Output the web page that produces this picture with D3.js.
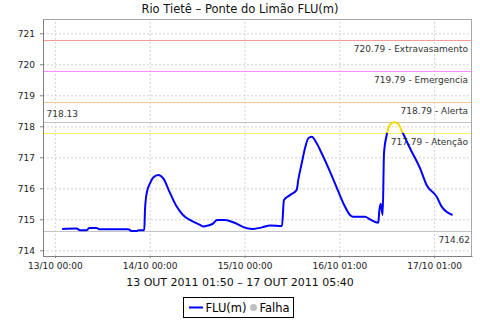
<!DOCTYPE html>
<html>
<head>
<meta charset="utf-8">
<script src="https://cdn.jsdelivr.net/npm/d3@7"></script>
<style>
body { margin: 0; background: #fff; }
text { font-family: "DejaVu Sans", sans-serif; }
</style>
</head>
<body>
<div id="chart"></div>
<script>
// hours since 13/10 00:00 (standard time, before the DST change)
var hours = [1.83, 5.52, 6.35, 8.05, 8.71, 10.58, 11.16, 18.58, 19.44, 20.71, 21.16, 22.63,
	22.81, 23.24, 24.08, 24.91, 26.18, 27.44, 29.14, 30.84, 32.43, 34.2, 36.73, 37.49,
	38.76, 40.03, 41.04, 43.06, 45.59, 48.63, 50.15, 52.43, 54.46, 57.49, 57.99, 59.52,
	61.22, 61.62, 62.48, 63.32, 64.15, 65.01, 66.28, 67.54, 69.65, 71.75, 73.44, 74.71,
	75.54, 78.51, 79.77, 81.87, 82.13, 82.48, 82.99, 83.32, 84.0, 84.84, 85.92, 86.86,
	88.05, 89.9, 92.43, 94.13, 96.66, 97.92, 100.67];
var levels = [714.69, 714.70, 714.65, 714.65, 714.72, 714.72, 714.68, 714.68, 714.62, 714.62, 714.65, 714.65,
	715.30, 715.84, 716.16, 716.35, 716.43, 716.32, 715.85, 715.41, 715.14, 714.98, 714.82, 714.77,
	714.80, 714.86, 714.98, 714.98, 714.88, 714.71, 714.69, 714.74, 714.80, 714.78, 715.62, 715.78,
	715.95, 716.27, 716.80, 717.29, 717.61, 717.66, 717.45, 717.13, 716.54, 715.90, 715.41, 715.14,
	715.08, 715.08, 715.00, 714.89, 715.27, 715.50, 715.14, 717.13, 717.72, 718.05, 718.13, 718.08,
	717.79, 717.29, 716.65, 716.10, 715.73, 715.41, 715.14];

var xTickHours = [0, 24, 48, 72, 96];
var xTickLabels = ["13/10 00:00", "14/10 00:00", "15/10 00:00", "16/10 01:00", "17/10 01:00"];
var yTicks = [714, 715, 716, 717, 718, 719, 720, 721];

var limitNames = ["Extravasamento", "Emergencia", "Alerta", "Atenção"];
var limitValues = [720.79, 719.79, 718.79, 717.79];
var limitColors = ["#f09a9a", "#ff8cff", "#f6c896", "#ffee66"];
var maxLevel = 718.13;
var minLevel = 714.62;

var svgWidth = 480;
var svgHeight = 320;
var plot = { left: 43, right: 472, top: 19, bottom: 256 };

var base = Date.UTC(2011, 9, 13, 3, 0);  // 13/10 00:00 local (UTC-3)
function toDate(h) { return new Date(base + h * 3600e3); }

var data = hours.map(function(h, i) { return { t: toDate(h), v: levels[i] }; });

var svg = d3.select("#chart")
	.append("svg")
	.attr("width", svgWidth)
	.attr("height", svgHeight);

var x = d3.scaleUtc()
	.domain([toDate(-3.01), toDate(105.6)])
	.range([plot.left, plot.right]);

var y = d3.scaleLinear()
	.domain([713.816, 721.461])
	.range([plot.bottom, plot.top]);

var pw = plot.right - plot.left;
var ph = plot.bottom - plot.top;

// title
svg.append("text")
	.attr("x", 240)
	.attr("y", 12.5)
	.attr("text-anchor", "middle")
	.style("font-size", "11.5px")
	.attr("fill", "#111")
	.text("Rio Tietê – Ponte do Limão FLU(m)");

// gridlines
svg.append("g")
	.attr("transform", `translate(0, ${plot.bottom})`)
	.call(d3.axisBottom(x).tickValues(xTickHours.map(toDate)).tickSize(-ph).tickFormat(""));
svg.append("g")
	.attr("transform", `translate(${plot.left}, 0)`)
	.call(d3.axisLeft(y).tickValues(yTicks).tickSize(-pw).tickFormat(""));
svg.selectAll(".domain").remove();
svg.selectAll("g.tick line")
	.attr("stroke", "#d4d4d4")
	.attr("stroke-dasharray", "2,2");

// frame
svg.append("rect")
	.attr("x", plot.left + 0.5)
	.attr("y", plot.top + 0.5)
	.attr("width", pw - 1)
	.attr("height", ph)
	.attr("fill", "none")
	.attr("stroke", "#a8a8a8");

// limit lines
limitValues.forEach(function(v, i) {
	svg.append("line")
		.attr("x1", plot.left + 1).attr("x2", plot.right - 1)
		.attr("y1", Math.round(y(v)) + 0.5).attr("y2", Math.round(y(v)) + 0.5)
		.attr("stroke", limitColors[i]);
});
[maxLevel, minLevel].forEach(function(v) {
	svg.append("line")
		.attr("x1", plot.left + 1).attr("x2", plot.right - 1)
		.attr("y1", Math.round(y(v)) + 0.5).attr("y2", Math.round(y(v)) + 0.5)
		.attr("stroke", "#c4c4c4");
});

// data line: blue below "Atenção", yellow above it
var cut = y(limitValues[3]);
var defs = svg.append("defs");
defs.append("clipPath").attr("id", "below")
	.append("rect").attr("x", plot.left).attr("y", cut).attr("width", pw).attr("height", plot.bottom - cut);
defs.append("clipPath").attr("id", "above")
	.append("rect").attr("x", plot.left).attr("y", plot.top).attr("width", pw).attr("height", cut - plot.top);

var line = d3.line()
	.curve(d3.curveMonotoneX)
	.x(d => x(d.t))
	.y(d => y(d.v));

svg.append("path")
	.datum(data)
	.attr("clip-path", "url(#below)")
	.attr("d", line)
	.attr("fill", "none")
	.attr("stroke", "#0000ff")
	.attr("stroke-width", 2)
	.attr("stroke-linejoin", "round");

svg.append("path")
	.datum(data)
	.attr("clip-path", "url(#above)")
	.attr("d", line)
	.attr("fill", "none")
	.attr("stroke", "#f8d800")
	.attr("stroke-width", 2)
	.attr("stroke-linejoin", "round");

// limit labels
limitValues.forEach(function(v, i) {
	svg.append("text")
		.attr("x", 468)
		.attr("y", y(v) + 12)
		.attr("text-anchor", "end")
		.style("font-size", "9px")
		.attr("fill", "#333")
		.text(v.toFixed(2) + " - " + limitNames[i]);
});
svg.append("text")
	.attr("x", 46.5)
	.attr("y", y(maxLevel) - 5)
	.style("font-size", "9px")
	.attr("fill", "#333")
	.text(maxLevel.toFixed(2));
svg.append("text")
	.attr("x", 470)
	.attr("y", y(minLevel) + 11.5)
	.attr("text-anchor", "end")
	.style("font-size", "9px")
	.attr("fill", "#333")
	.text(minLevel.toFixed(2));

// axes
var xAxis = svg.append("g")
	.attr("transform", `translate(0, ${plot.bottom})`)
	.call(d3.axisBottom(x)
		.tickValues(xTickHours.map(toDate))
		.tickSize(2)
		.tickSizeOuter(0)
		.tickPadding(4.5)
		.tickFormat((d, i) => xTickLabels[i]));

var yAxis = svg.append("g")
	.attr("transform", `translate(${plot.left}, 0)`)
	.call(d3.axisLeft(y)
		.tickValues(yTicks)
		.tickSize(3)
		.tickSizeOuter(0)
		.tickPadding(5)
		.tickFormat(d3.format("d")));

[xAxis, yAxis].forEach(function(a) {
	a.attr("font-family", null).attr("font-size", null);
	a.selectAll("text").style("font-size", "9px").attr("fill", "#222");
	a.selectAll("line").attr("stroke", "#808080");
	a.select(".domain").attr("stroke", "#808080");
});

// subtitle
svg.append("text")
	.attr("x", 240)
	.attr("y", 286)
	.attr("text-anchor", "middle")
	.style("font-size", "11px")
	.attr("fill", "#111")
	.text("13 OUT 2011 01:50 – 17 OUT 2011 05:40");

// legend
var legend = svg.append("g");
legend.append("rect")
	.attr("x", 183.5).attr("y", 297.5)
	.attr("width", 110).attr("height", 20)
	.attr("fill", "#fff").attr("stroke", "#000");
legend.append("line")
	.attr("x1", 189).attr("x2", 203)
	.attr("y1", 307.5).attr("y2", 307.5)
	.attr("stroke", "#0000ff").attr("stroke-width", 2);
legend.append("text")
	.attr("x", 205.5).attr("y", 311.5)
	.style("font-size", "11.5px")
	.text("FLU(m)");
legend.append("circle")
	.attr("cx", 253.5).attr("cy", 307.5).attr("r", 3.5)
	.attr("fill", "#c0c0c0");
legend.append("text")
	.attr("x", 259.5).attr("y", 311.5)
	.style("font-size", "11.5px")
	.text("Falha");
</script>
</body>
</html>
